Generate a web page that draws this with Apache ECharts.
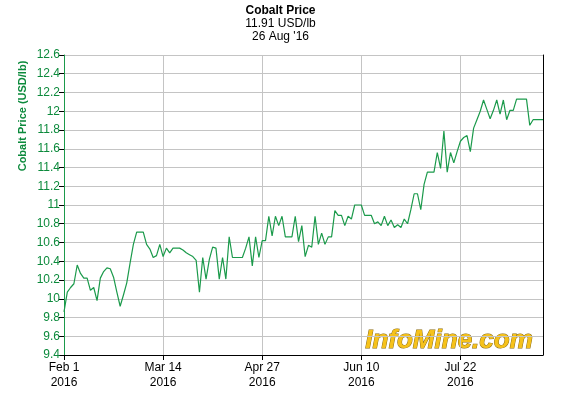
<!DOCTYPE html>
<html><head><meta charset="utf-8">
<script src="https://cdn.jsdelivr.net/npm/echarts@6/dist/echarts.min.js"></script>
<style>html,body{margin:0;padding:0;background:#fff}#c{width:561px;height:395px}</style>
</head><body><div id="c"></div>
<script>
// Trading days Feb 1 2016 – Aug 26 2016 (weekdays, UK bank holidays excluded)
const startDate = '2016-02-01';
const endDate = '2016-08-26';
const holidays = ['2016-03-25','2016-03-28','2016-05-02','2016-05-30'];
const labelDates = ['2016-02-01','2016-03-14','2016-04-27','2016-06-10','2016-07-22'];
const prices = [
9.86,10.07,10.12,10.16,10.36,10.27,10.22,10.22,10.09,10.12,
9.98,10.22,10.29,10.33,10.32,10.23,10.07,9.92,10.04,10.17,
10.38,10.58,10.71,10.71,10.71,10.58,10.53,10.44,10.46,10.58,
10.45,10.54,10.49,10.54,10.54,10.54,10.52,10.49,10.47,10.45,
10.41,10.07,10.44,10.21,10.42,10.55,10.54,10.21,10.44,10.21,
10.66,10.44,10.44,10.44,10.44,10.54,10.66,10.35,10.66,10.44,
10.62,10.62,10.88,10.67,10.88,10.78,10.88,10.66,10.66,10.66,
10.88,10.61,10.78,10.45,10.57,10.55,10.88,10.58,10.70,10.58,
10.66,10.66,10.94,10.89,10.89,10.78,10.88,10.85,11.00,11.00,
11.00,10.89,10.89,10.89,10.80,10.82,10.78,10.88,10.78,10.84,
10.76,10.79,10.76,10.85,10.80,10.95,11.12,11.12,10.95,11.22,
11.35,11.35,11.35,11.56,11.39,11.79,11.35,11.56,11.45,11.57,
11.68,11.72,11.74,11.57,11.82,11.91,12.00,12.12,12.02,11.92,
12.01,12.12,11.97,12.12,11.91,12.01,12.01,12.13,12.13,12.13,
12.13,11.85,11.91,11.91,11.91,11.91];
const titleLines = ['Cobalt Price', '11.91 USD/lb', "26 Aug '16"];
const yName = 'Cobalt Price (USD/lb)';
const monthNames = ['Jan','Feb','Mar','Apr','May','Jun','Jul','Aug','Sep','Oct','Nov','Dec'];

function iso(d){return d.toISOString().slice(0,10);}
const categories = [];
for (let d = new Date(startDate+'T00:00:00Z'); iso(d) <= endDate; d.setUTCDate(d.getUTCDate()+1)) {
  const wd = d.getUTCDay();
  if (wd === 0 || wd === 6) continue;
  if (holidays.indexOf(iso(d)) >= 0) continue;
  categories.push(iso(d));
}
const isLabel = (i) => labelDates.indexOf(categories[i]) >= 0;
function fmt(v){const p=v.split('-');return monthNames[+p[1]-1]+' '+(+p[2])+'\n'+p[0];}

const green = '#1b9a4b';
const labelGreen = '#0c8a3c';
const font = 'Liberation Sans, Arial, sans-serif';
const chart = echarts.init(document.getElementById('c'), null, {renderer:'canvas'});
chart.setOption({
  animation:false,
  backgroundColor:'#fff',
  grid:{left:64,right:18,top:55,bottom:40,containLabel:false},
  title:{show:false},
  graphic:[
    {type:'text',left:'center',top:5,style:{text:titleLines[0],font:'bold 12px '+font,fill:'#000'}},
    {type:'text',left:'center',top:18,style:{text:titleLines[1],font:'12px '+font,fill:'#000'}},
    {type:'text',left:'center',top:31,style:{text:titleLines[2],font:'12px '+font,fill:'#000'}},
    {type:'text',x:23,y:116,rotation:Math.PI/2,style:{text:yName,font:'bold 11px '+font,fill:labelGreen,textAlign:'center',textVerticalAlign:'middle'}},
    {type:'text',x:449,y:341,z:0,style:{text:'InfoMine.com',font:'italic bold 26px '+font,fill:'#f6c21a',stroke:'#8a6a10',lineWidth:1,textAlign:'center',textVerticalAlign:'middle',shadowColor:'rgba(0,0,0,0.45)',shadowOffsetX:1.5,shadowOffsetY:1.5,shadowBlur:1}}
  ],
  xAxis:{
    type:'category',data:categories,boundaryGap:false,
    axisLine:{lineStyle:{color:'#000',width:1}},
    axisTick:{show:true,interval:(i)=>isLabel(i),length:5,lineStyle:{color:'#000'}},
    axisLabel:{interval:(i)=>isLabel(i),formatter:fmt,color:'#000',fontSize:12,fontFamily:font,lineHeight:15,margin:5},
    splitLine:{show:true,interval:(i)=>isLabel(i),lineStyle:{color:'#c4c4c4',width:1}}
  },
  yAxis:[{
    type:'value',min:9.4,max:12.6,interval:0.2,
    axisLine:{show:true,lineStyle:{color:green,width:1}},
    axisTick:{show:true,length:5,lineStyle:{color:'#000'}},
    axisLabel:{color:labelGreen,fontSize:12,fontFamily:font,margin:4},
    splitLine:{show:true,lineStyle:{color:'#c4c4c4',width:1}}
  },{
    type:'value',min:9.4,max:12.6,interval:0.2,position:'right',
    axisLine:{show:true,lineStyle:{color:'#000',width:1}},
    axisTick:{show:false},axisLabel:{show:false},splitLine:{show:false}
  }],
  series:[{
    type:'line',data:prices,showSymbol:false,symbol:'none',
    lineStyle:{color:green,width:1.2},z:5
  }]
});
</script></body></html>
